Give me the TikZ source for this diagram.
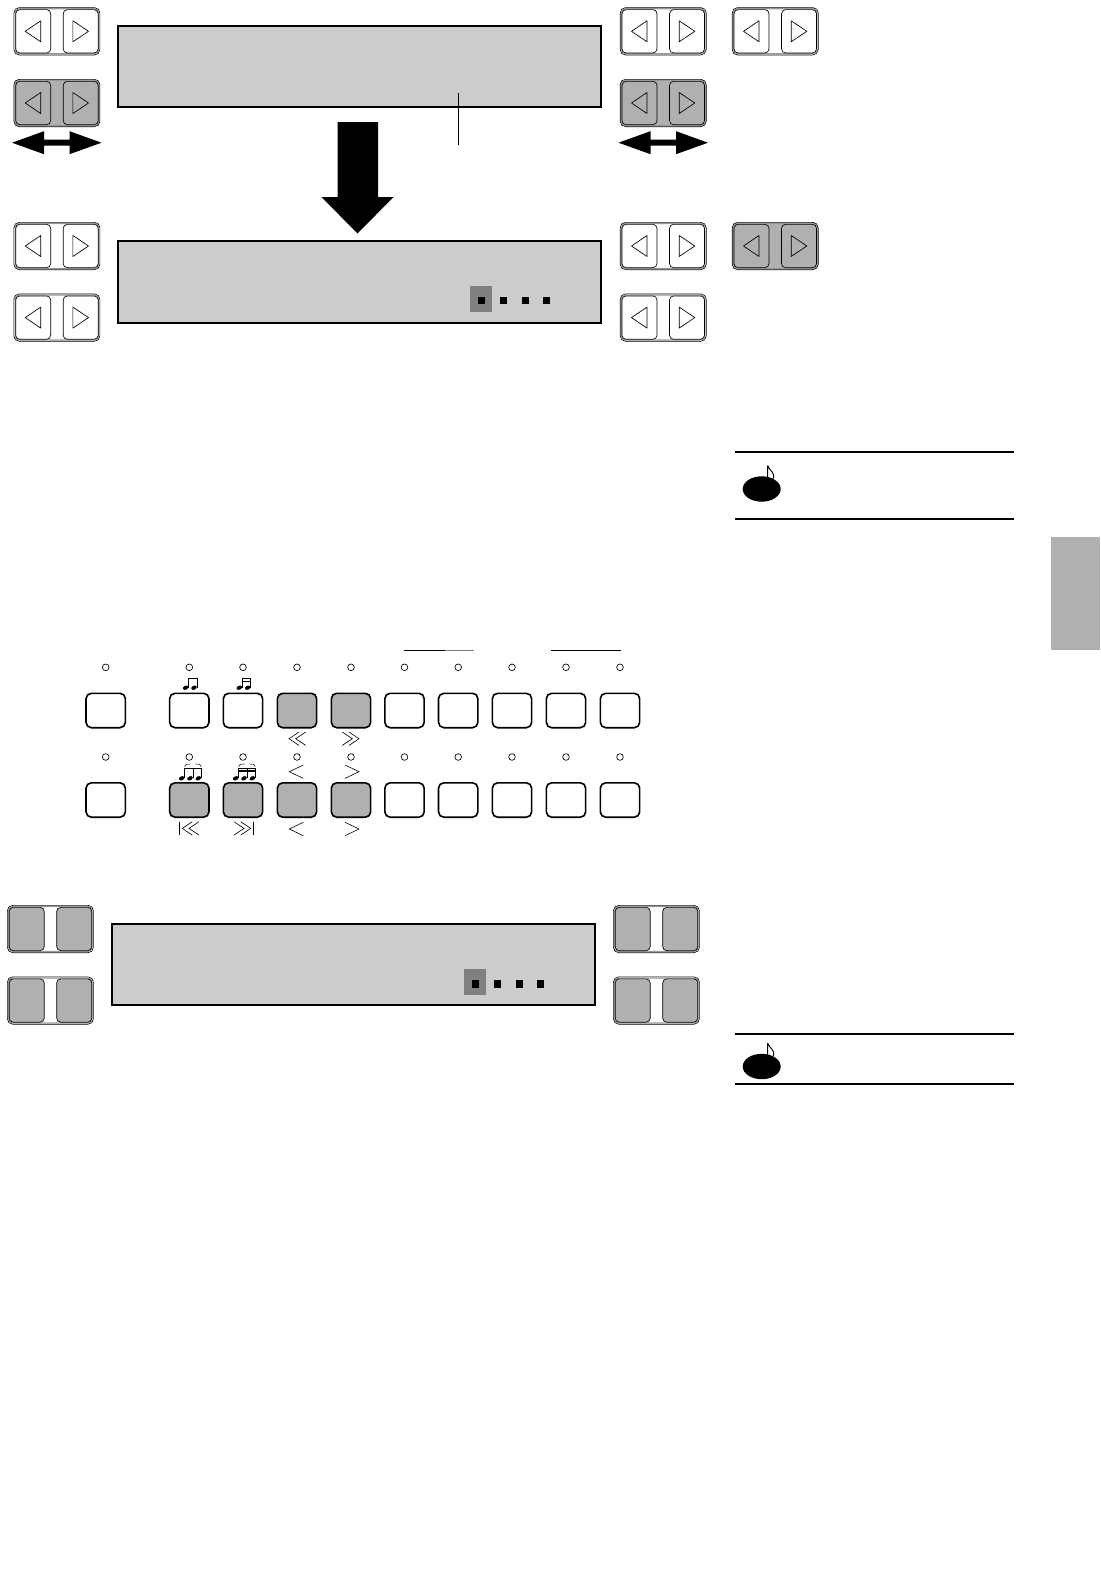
\documentclass[tikz,border=0pt]{standalone}
\usepackage{tikz}

\definecolor{lcdgrey}{HTML}{CCCCCC}
\definecolor{keygrey}{HTML}{B0B0B0}
\definecolor{bandgrey}{HTML}{999999}
\definecolor{cursorgrey}{HTML}{808080}
\tikzset{
  lcdbox/.style={draw=black,line width=1.5pt,fill=lcdgrey,minimum width=361.9pt,minimum height=60.8pt,inner sep=0pt},
  keycap/.style={draw=black,line width=0.5pt,rounded corners=3pt,minimum width=26.2pt,minimum height=32.5pt,inner sep=0pt},
  pairbody/.style={draw=black,line width=0.5pt,rounded corners=4pt,minimum width=64.5pt,minimum height=35.5pt,inner sep=0pt},
  pairband/.style={draw=bandgrey,line width=0.9pt,rounded corners=3pt,minimum width=62.5pt,minimum height=33.7pt,inner sep=0pt},
  panelkey/.style={draw=black,line width=1.2pt,rounded corners=4pt,minimum width=29.5pt,minimum height=25.8pt,inner sep=0pt},
  ledlamp/.style={circle,draw=black,line width=0.5pt,minimum size=5pt,inner sep=0pt},
  triangle/.style={draw=black,line width=0.5pt,line join=round},
  glyphline/.style={draw=black,line width=0.45pt},
  noteline/.style={draw=black,line width=0.6pt},
}

% #1 name, #2 x, #3 y (centre), #4 body colour, #5 key colour
\newcommand{\pairkey}[5]{
  \node[pairbody,fill=#4] (#1) at (#2,#3) {};
  \node[pairband] (#1b) at (#2,#3) {};
  \node[keycap,fill=#5] (#1l) at (#2-23.7,#3) {};
  \node[keycap,fill=#5] (#1r) at (#2+23.8,#3) {};
}
% the two triangles on a pair of keys
\newcommand{\pairtri}[1]{
  \draw[triangle] ([shift={(-8,0)}]#1l.center) -- ([shift={(7.5,-10.5)}]#1l.center) -- ([shift={(7.5,10.5)}]#1l.center) -- cycle;
  \draw[triangle] ([shift={(7.8,0)}]#1r.center) -- ([shift={(-7.8,-10.5)}]#1r.center) -- ([shift={(-7.8,10.5)}]#1r.center) -- cycle;
}
% double arrow, #1 left end, #2 y
\newcommand{\widearrow}[2]{
  \fill (#1,#2) -- (#1+32,#2-11.5) -- (#1+32,#2-3) -- (#1+57.5,#2-3) -- (#1+57.5,#2-11.5) -- (#1+89.5,#2)
    -- (#1+57.5,#2+11.5) -- (#1+57.5,#2+3) -- (#1+32,#2+3) -- (#1+32,#2+11.5) -- cycle;
}
% chevron: #1 tip x, #2 y, #3 signed width
\newcommand{\chev}[3]{\draw[glyphline] (#1+#3,#2-6.7) -- (#1,#2) -- (#1+#3,#2+6.7);}
\newcommand{\notehead}[2]{\fill[rotate around={25:(#1,#2)}] (#1,#2) ellipse (2.9 and 2);}
% #1 y of the rule on top
\newcommand{\noteicon}[2]{
  \fill (761.7,#2) ellipse (19 and 12.7);
  \draw[line width=0.7pt] (767.7,#2-23.5) -- (767.7,#2-11) (767.7,#2-23.5) .. controls (769,#2-18) and (776,#2-17) .. (773,#2-10);
}
% cursor marks of the display, #1 x shift, #2 y
\newcommand{\cursormarks}[2]{
  \fill[cursorgrey] (470+#1,#2-14.7) rectangle (492+#1,#2+11.3);
  \foreach \sx in {481.7,503.7,525.3,546.3}
    \fill (\sx+#1-3.7,#2-3.7) rectangle (\sx+#1+3.7,#2+3.7);
}

\begin{document}
\begin{tikzpicture}[x=0.75pt,y=-0.75pt]
  \useasboundingbox (0,0) rectangle (1100,1589);

  % Upper display
  \node[lcdbox] (lcdA) at (359.75,66.8) {};
  \draw[line width=0.7pt] (458,93) -- (458,145);
  \fill (337.5,122) -- (378,122) -- (378,197) -- (393.5,197) -- (357.5,233.5) -- (321.5,197) -- (337.5,197) -- cycle;

  % Lower display
  \node[lcdbox] (lcdB) at (359.75,282) {};
  \cursormarks{0}{300.7}

  % Keys round the displays
  \pairkey{keyA}{56.9}{31.3}{white}{white}
  \pairkey{keyB}{56.9}{103}{keygrey}{keygrey}
  \pairkey{keyC}{56.9}{246}{white}{white}
  \pairkey{keyD}{56.9}{317.6}{white}{white}
  \pairkey{keyE}{663.2}{31.3}{white}{white}
  \pairkey{keyF}{663.2}{103}{keygrey}{keygrey}
  \pairkey{keyG}{663.2}{246}{white}{white}
  \pairkey{keyH}{663.2}{317.6}{white}{white}
  \pairkey{keyI}{775.2}{31.3}{white}{white}
  \pairkey{keyJ}{775.2}{246}{keygrey}{keygrey}
  \foreach \k in {keyA,keyB,keyC,keyD,keyE,keyF,keyG,keyH,keyI,keyJ}{
    \pairtri{\k}
  }
  \widearrow{12}{142.7}
  \widearrow{618.5}{142.7}

  % Note boxes
  \draw[line width=1pt] (735,452) -- (1014,452) (735,519) -- (1014,519);
  \noteicon{452}{489}
  \draw[line width=1pt] (735,1034) -- (1014,1034) (735,1084) -- (1014,1084);
  \noteicon{1034}{1066.5}

  % Side tab
  \fill[keygrey] (1051,537) rectangle (1100,650);

  % Panel: lamps and keys
  \draw[line width=0.75pt] (404,650.5) -- (445,650.5) (551,650.5) -- (620.7,650.5);
  \draw[line width=0.75pt,draw=cursorgrey] (445,650.5) -- (474,650.5);
  \foreach \n/\px/\colA/\colB in {1/105.7/white/white,2/189.3/white/keygrey,3/243/white/keygrey,4/297/keygrey/keygrey,5/351/keygrey/keygrey,6/404.5/white/white,7/458.2/white/white,8/512/white/white,9/566/white/white,10/620/white/white}{
    \node[ledlamp] (ledA\n) at (\px,667.3) {};
    \node[ledlamp] (ledB\n) at (\px,757) {};
    \node[panelkey,fill=\colA] (btnA\n) at (\px,710.5) {};
    \node[panelkey,fill=\colB] (btnB\n) at (\px,800) {};
  }

  % Marks by the panel keys
  \chev{289}{738.7}{10}\chev{295.7}{738.7}{10}
  \chev{359}{738.7}{-10}\chev{352.3}{738.7}{-10}
  \chev{289.3}{771.7}{14}\chev{359}{771.7}{-14}
  \chev{289.3}{829}{14}\chev{359}{829}{-14}
  \chev{182.3}{828.4}{10}\chev{189}{828.4}{10}
  \draw[glyphline] (179.3,821.7) -- (179.3,835);
  \chev{250.7}{828.4}{-10}\chev{244}{828.4}{-10}
  \draw[glyphline] (253.3,821.7) -- (253.3,835);

  % Beamed notes
  \notehead{185.7}{687.7}\notehead{194}{687.7}
  \draw[noteline] (188.6,687.7) -- (188.6,678.7) -- (197,678.7) -- (197,687.7);
  \draw[line width=0.9pt] (188.6,678.7) -- (197,678.7);
  \notehead{239.3}{687.7}\notehead{247.7}{687.7}
  \draw[noteline] (242.2,687.7) -- (242.2,678.7) -- (250.6,678.7) -- (250.6,687.7);
  \draw[line width=0.9pt] (242.2,678.7) -- (250.6,678.7) (242.2,681.5) -- (250.6,681.5);

  % Triplets
  \notehead{181.7}{778.3}\notehead{190}{778.3}\notehead{198.3}{778.3}
  \draw[noteline] (184.6,778.3) -- (184.6,768.3) -- (201.2,768.3) -- (201.2,778.3) (192.9,778.3) -- (192.9,768.3);
  \draw[line width=0.9pt] (184.6,768.3) -- (201.2,768.3);
  \draw[line width=0.4pt] (184.6,766.5) .. controls (186,764) .. (190.5,764) (195.3,764) .. controls (200,764) .. (201.2,766.5);
  \notehead{235.7}{778.3}\notehead{244}{778.3}\notehead{252.3}{778.3}
  \draw[noteline] (238.6,778.3) -- (238.6,768.3) -- (255.2,768.3) -- (255.2,778.3) (246.9,778.3) -- (246.9,768.3);
  \draw[line width=0.9pt] (238.6,768.3) -- (255.2,768.3) (238.6,771) -- (255.2,771);
  \draw[line width=0.4pt] (238.6,766.5) .. controls (240,764) .. (244.5,764) (249.3,764) .. controls (254,764) .. (255.2,766.5);

  % Bottom display
  \node[lcdbox] (lcdC) at (353.6,964.8) {};
  \cursormarks{-6}{984}
  \pairkey{keyK}{50.4}{929}{white}{keygrey}
  \pairkey{keyL}{50.4}{1000.5}{white}{keygrey}
  \pairkey{keyM}{656.4}{929}{white}{keygrey}
  \pairkey{keyN}{656.4}{1000.5}{white}{keygrey}
\end{tikzpicture}
\end{document}
